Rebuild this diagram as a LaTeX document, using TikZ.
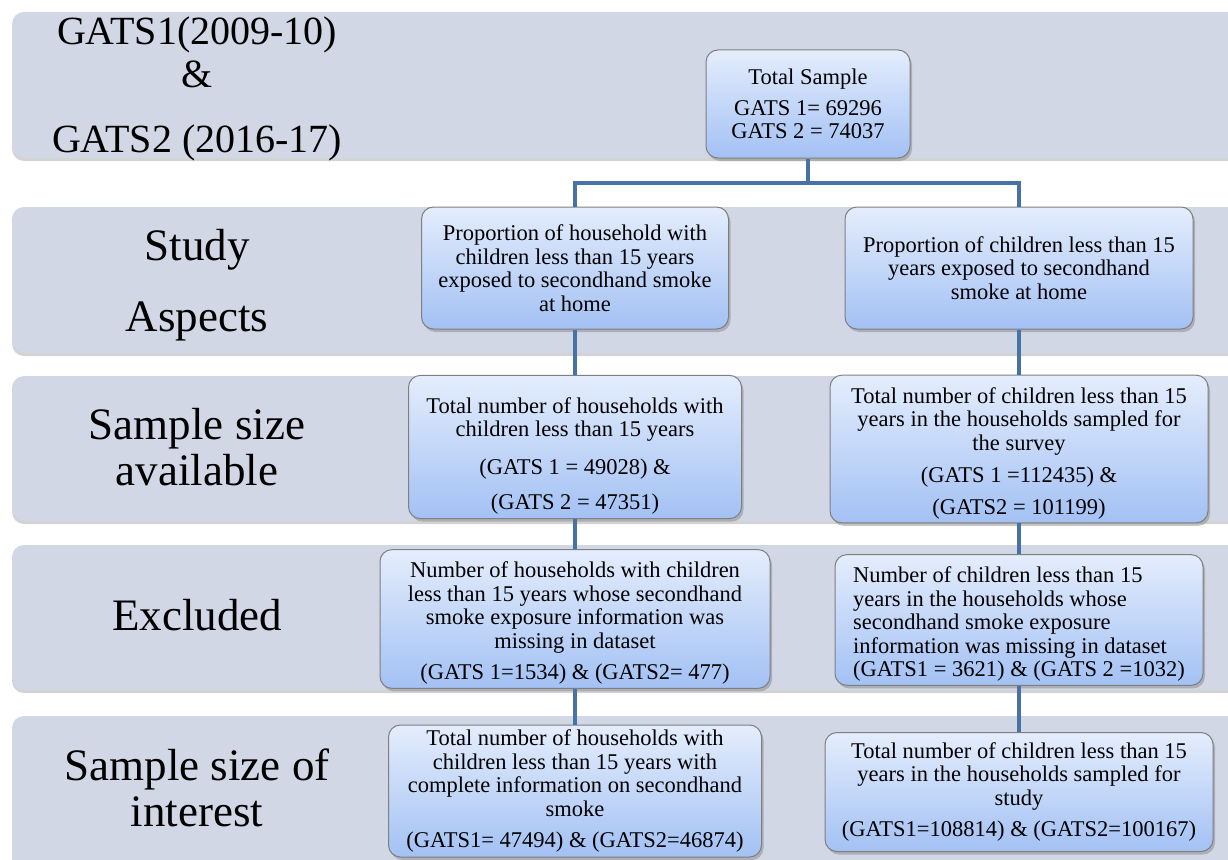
\documentclass[tikz,border=0pt]{standalone}
\usepackage{fontspec}
\setmainfont{Liberation Serif}
\usetikzlibrary{shadows}
\definecolor{bandgray}{HTML}{D1D7E5}
\definecolor{boxtop}{HTML}{E4EDFC}
\definecolor{boxbot}{HTML}{A3C1F4}
\definecolor{boxline}{HTML}{7F7F7F}
\definecolor{linkblue}{HTML}{4672A6}
\begin{document}
\begin{tikzpicture}[x=1pt,y=-1pt,
    band/.style={fill=bandgray,rounded corners=12pt,drop shadow={shadow xshift=0pt,shadow yshift=-3pt,opacity=0.35}},
    flowbox/.style={draw=boxline,line width=1pt,rounded corners=12pt,top color=boxtop,bottom color=boxbot,
        align=center,inner sep=4pt,font=\fontsize{22.5}{23.5}\selectfont,
        drop shadow={shadow xshift=2pt,shadow yshift=-3pt,opacity=0.45}},
    link/.style={draw=linkblue,line width=4pt},
    rowlabel/.style={align=center,font=\fontsize{45}{46}\selectfont}]
    \useasboundingbox (0,0) rectangle (1228,859);
    \path[band] (12,12) rectangle (1260,158);
    \path[band] (12,207) rectangle (1260,353);
    \path[band] (12,376) rectangle (1260,521);
    \path[band] (12,545) rectangle (1260,690);
    \path[band] (12,716) rectangle (1260,900);

    \node[rowlabel,font=\fontsize{40}{43}\selectfont] (period) at (197,89) {GATS1(2009-10)\\ \&\\[22pt] GATS2 (2016-17)};
    \node[rowlabel] (aspects) at (197,285) {Study\\[25pt] Aspects};
    \node[rowlabel] (avail) at (197,447) {Sample size\\ available};
    \node[rowlabel] (excl) at (197,615) {Excluded};
    \node[rowlabel] (interest) at (197,788) {Sample size of\\ interest};

    \node[flowbox,minimum width=204pt,minimum height=108pt] (total) at (808,104) {Total Sample\\[7pt] GATS 1= 69296\\ GATS 2 = 74037};
    \node[flowbox,minimum width=307pt,minimum height=122pt] (studyl) at (575,268) {Proportion of household with\\ children less than 15 years\\ exposed to secondhand smoke\\ at home};
    \node[flowbox,minimum width=348pt,minimum height=122pt] (studyr) at (1019,268) {Proportion of children less than 15\\ years exposed to secondhand\\ smoke at home};
    \node[flowbox,minimum width=333pt,minimum height=141pt] (sampl) at (575,447) {\rule{0pt}{34pt}Total number of households with\\ children less than 15 years\\[14pt] (GATS 1 = 49028) \&\\[12pt] (GATS 2 = 47351)};
    \node[flowbox,minimum width=378pt,minimum height=144pt] (sampr) at (1019,449) {\rule{0pt}{24pt}Total number of children less than 15\\ years in the households sampled for\\ the survey\\[9pt] (GATS 1 =112435) \&\\[8pt] (GATS2 = 101199)};
    \node[flowbox,minimum width=390pt,minimum height=132pt] (excll) at (575,619) {\rule{0pt}{24pt}Number of households with children\\ less than 15 years whose secondhand\\ smoke exposure information was\\ missing in dataset\\[8pt] (GATS 1=1534) \& (GATS2= 477)};
    \node[flowbox,align=left,minimum width=368pt,minimum height=129pt] (exclr) at (1019,620) {\rule{0pt}{24pt}Number of children less than 15\\ years in the households whose\\ secondhand smoke exposure\\ information was missing in dataset\\ (GATS1 = 3621) \& (GATS 2 =1032)};
    \node[flowbox,minimum width=373pt,minimum height=132pt] (intl) at (575,791) {Total number of households with\\ children less than 15 years with\\ complete information on secondhand\\ smoke\\[8pt] (GATS1= 47494) \& (GATS2=46874)};
    \node[flowbox,minimum width=388pt,minimum height=119pt] (intr) at (1019,792) {Total number of children less than 15\\ years in the households sampled for\\ study\\[8pt] (GATS1=108814) \& (GATS2=100167)};

    \coordinate (split) at (808,183);
    \draw[link] (total.south) -- (split);
    \draw[link] (studyl.north) |- (split) -| (studyr.north);
    \draw[link] (studyl.south) -- (sampl.north);
    \draw[link] (sampl.south) -- (excll.north);
    \draw[link] (excll.south) -- (intl.north);
    \draw[link] (studyr.south) -- (sampr.north);
    \draw[link] (sampr.south) -- (exclr.north);
    \draw[link] (exclr.south) -- (intr.north);
\end{tikzpicture}
\end{document}
